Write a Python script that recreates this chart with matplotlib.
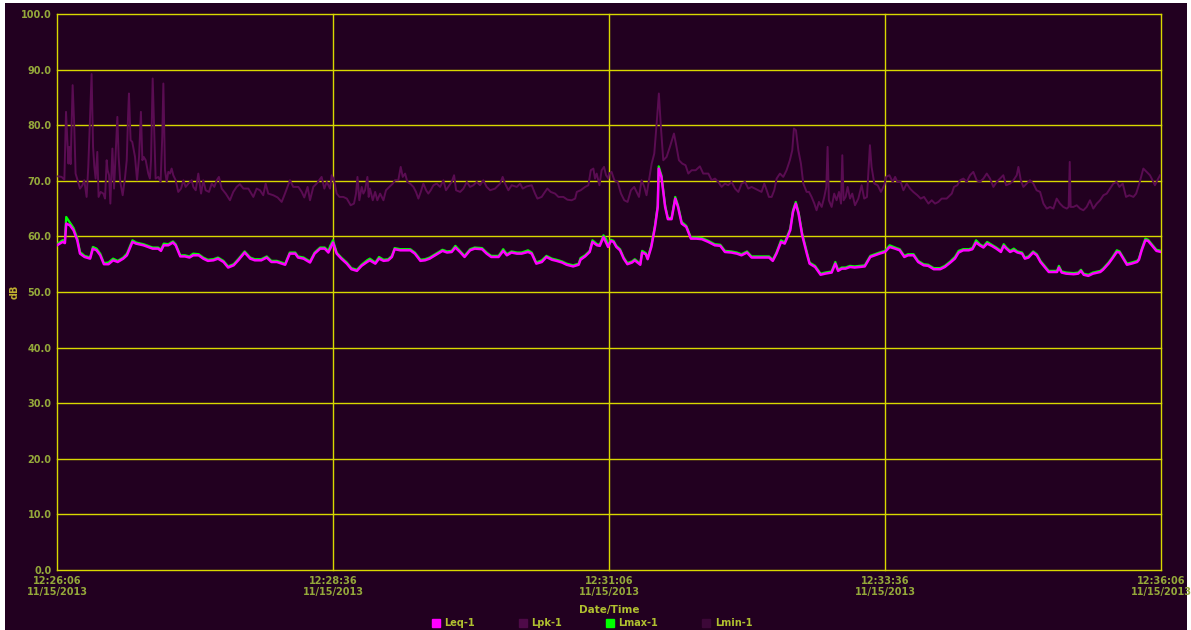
import matplotlib
matplotlib.use("Agg")
import matplotlib.pyplot as plt
import pandas as pd
from matplotlib.patches import Rectangle
from matplotlib.lines import Line2D

# seconds since 12:26:06 and levels in dB
leq_t = [0, 3, 4.3, 5, 7, 9, 11, 12.5, 15, 18, 19.5, 21.5, 23.5, 25.5, 28, 30.5, 33, 36, 38, 41,
         43, 47, 49.5, 52, 55, 56.5, 58, 60.5, 63, 64.5, 67, 69.5, 72, 74, 77, 79.5, 82, 85, 87.5, 90.5,
         93, 96, 98.5, 102, 105, 107.5, 111, 114, 116.5, 119.5, 124, 126.5, 129.5, 131, 134, 137.5, 140, 143, 145.5, 147.5,
         148.5, 150, 152, 154.5, 157.5, 160, 163, 165.5, 168.5, 170, 173, 175, 177.5, 180, 182, 183.5, 186.5, 192, 194.5, 197.5,
         200, 202.5, 206.5, 209.5, 212, 214.5, 216.5, 219, 221.5, 224.5, 227, 231, 233.5, 236, 240, 242.5, 244.5, 247, 250, 252.5,
         256, 258, 260.5, 263.5, 266, 269, 271.5, 274.5, 277, 280.5, 283.5, 284.5, 287, 289.5, 291, 293.5, 295, 297,
         298.5, 299.5, 301, 302.5, 304, 306, 308, 310, 312.5, 314, 317, 318, 320, 321, 323, 325, 326.5, 327, 328.5, 330.5,
         332, 334, 336, 337.5, 339.5, 342, 344.5, 347.5, 350.5, 354, 357.5, 360.5, 363, 366.5, 369.5, 372, 375, 377.5, 381, 385,
         387, 389, 391, 393.5, 395.5, 398.5, 400, 401.5, 403, 405, 407.5, 409, 412, 415, 417.5, 421, 423, 424.5, 426.5, 428.5,
         431, 433.5, 436.5, 439, 442, 444.5, 447,
         450, 452.5, 455.5, 458, 460.5, 462.5, 465.5, 468, 471, 473.5, 476.5, 480, 482.5, 485.5, 488, 490, 492.5, 495.5, 497.5, 499.5,
         501.5, 503.5, 505.5, 508, 510.5, 513, 514.5, 516, 518, 520, 522, 524.5, 526, 528, 530.5, 532.5, 534.5, 537, 539, 541.5,
         543.5, 544.5, 546, 548.5, 552.5, 555, 556.5, 558, 560.5, 563, 567, 568.5, 571.5, 573.5, 576, 577.5, 579.5, 581.5, 584, 587,
         588, 589.5, 591.5, 593, 595, 597.5, 600]

leq = [58.4, 59.0, 58.8, 62.3, 62.0, 61.1, 59.3, 56.9, 56.3, 56.0, 57.8, 57.5, 56.6, 55.0, 55.0, 55.7, 55.4, 56.0, 56.6, 59.0,
       58.7, 58.4, 58.1, 57.8, 57.8, 57.4, 58.4, 58.4, 58.9, 58.4, 56.4, 56.4, 56.2, 56.6, 56.6, 56.0, 55.6, 55.7, 56.0, 55.4,
       54.4, 54.8, 55.7, 57.1, 56.0, 55.7, 55.7, 56.2, 55.4, 55.4, 54.9, 56.9, 56.9, 56.2, 56.0, 55.3, 56.9, 57.8, 57.8, 57.1,
       57.8, 58.9, 56.9, 56.0, 55.1, 54.1, 53.8, 54.7, 55.4, 55.7, 55.1, 56.0, 55.6, 55.7, 56.3, 57.7, 57.5, 57.5, 56.9, 55.6,
       55.7, 56.0, 56.8, 57.4, 57.1, 57.2, 58.0, 57.2, 56.3, 57.5, 57.8, 57.7, 56.9, 56.3, 56.3, 57.4, 56.6, 57.1, 56.9, 56.9,
       57.2, 56.9, 55.1, 55.4, 56.3, 55.8, 55.6, 55.3, 54.9, 54.6, 54.9, 55.8, 56.4, 57.2, 59.0, 58.4, 58.3, 59.9,
       58.8, 58.1, 59.2, 59.0, 58.1, 57.5, 56.0, 55.0, 55.3, 55.7, 54.9, 57.1, 56.8, 55.9, 58.1, 61.7, 65.3, 72.2, 70.7, 65.3,
       63.1, 63.1, 66.8, 65.3, 62.3, 61.7, 59.6, 59.6, 59.5, 59.0, 58.4, 58.3, 57.2, 57.1, 56.9, 56.6, 57.1, 56.2, 56.2, 56.2,
       56.2, 55.6, 56.9, 59.0, 58.7, 61.1, 64.4, 65.9, 64.1, 60.2, 56.9, 55.1, 54.5, 53.1, 53.3, 53.5, 55.1, 53.8, 54.2, 54.2,
       54.5, 54.4, 54.5, 54.6, 56.3, 56.6, 56.9,
       57.2, 58.1, 57.8, 57.5, 56.3, 56.6, 56.6, 55.4, 54.8, 54.7, 54.1, 54.1, 54.5, 55.3, 56.0, 57.1, 57.5, 57.5, 57.7, 58.9,
       58.4, 58.0, 58.7, 58.3, 57.8, 57.2, 58.3, 57.8, 57.2, 57.5, 57.1, 56.9, 56.0, 56.2, 57.1, 56.6, 55.4, 54.4, 53.6, 53.6,
       53.6, 54.4, 53.5, 53.3, 53.2, 53.3, 53.8, 53.1, 52.9, 53.3, 53.6, 54.0, 55.1, 56.0, 57.2, 57.1, 56.0, 54.9, 55.1, 55.4,
       55.8, 57.5, 59.3, 59.2, 58.4, 57.4, 57.2]

lmax = [58.6, 59.3, 59.3, 63.5, 62.5, 61.5, 59.7, 57.2, 56.5, 56.2, 58.1, 57.8, 56.9, 55.2, 55.3, 56.0, 55.6, 56.2, 56.9, 59.3,
        58.9, 58.6, 58.3, 58.0, 58.0, 57.6, 58.7, 58.6, 59.1, 58.6, 56.6, 56.6, 56.4, 56.9, 56.8, 56.2, 55.8, 55.9, 56.2, 55.6,
        54.6, 55.0, 55.9, 57.3, 56.2, 55.9, 55.9, 56.4, 55.6, 55.6, 55.1, 57.1, 57.1, 56.4, 56.2, 55.5, 57.1, 58.0, 58.0, 57.4,
        58.3, 59.3, 57.1, 56.2, 55.3, 54.3, 54.0, 54.9, 55.7, 56.0, 55.3, 56.3, 55.8, 55.9, 56.5, 57.9, 57.7, 57.7, 57.1, 55.8,
        55.9, 56.2, 57.0, 57.6, 57.3, 57.4, 58.3, 57.4, 56.5, 57.7, 58.0, 57.9, 57.1, 56.5, 56.5, 57.7, 56.8, 57.3, 57.1, 57.1,
        57.5, 57.1, 55.3, 55.7, 56.5, 56.0, 55.8, 55.5, 55.1, 54.8, 55.1, 56.1, 56.6, 57.4, 59.3, 58.6, 58.5, 60.2,
        59.5, 58.3, 59.4, 59.2, 58.3, 57.7, 56.2, 55.2, 55.5, 55.9, 55.1, 57.4, 57.0, 56.1, 58.4, 62.0, 65.6, 72.6, 71.0, 65.6,
        63.3, 63.3, 67.1, 65.6, 62.6, 61.9, 59.8, 59.8, 59.7, 59.2, 58.6, 58.5, 57.4, 57.3, 57.1, 56.8, 57.3, 56.4, 56.4, 56.4,
        56.4, 55.8, 57.1, 59.3, 58.9, 61.4, 64.7, 66.2, 64.4, 60.5, 57.2, 55.3, 54.7, 53.3, 53.5, 53.7, 55.4, 54.0, 54.4, 54.4,
        54.7, 54.6, 54.7, 54.8, 56.5, 56.8, 57.1,
        57.4, 58.4, 58.0, 57.7, 56.5, 56.8, 56.8, 55.6, 55.0, 54.9, 54.3, 54.3, 54.7, 55.5, 56.3, 57.4, 57.7, 57.7, 57.9, 59.3,
        58.6, 58.2, 59.0, 58.5, 58.0, 57.4, 58.6, 58.0, 57.4, 57.8, 57.3, 57.1, 56.2, 56.4, 57.3, 56.8, 55.6, 54.6, 53.8, 53.8,
        53.8, 54.7, 53.7, 53.5, 53.4, 53.5, 54.0, 53.3, 53.1, 53.5, 53.8, 54.2, 55.3, 56.2, 57.5, 57.3, 56.2, 55.1, 55.3, 55.6,
        56.0, 57.7, 59.6, 59.4, 58.6, 57.6, 57.4]

lpk_t = [0.7, 2.5, 4, 4.9, 5.6, 6.2, 6.7, 7.4, 8.5, 9.4, 10.1, 11.2, 12.5, 13.8, 14.8, 16.1, 17, 17.8, 18.8, 19.6,
         20.3, 21, 21.9, 22.6, 23.7, 25.2, 26.1, 27, 27.5, 28.3, 29, 30.1, 31, 31.9, 32.8, 33.5, 34.4, 35.7, 37, 37.9,
         38.6, 39.1, 40, 40.9, 42.4, 43.5, 44.6, 45.6, 46.4, 47.1, 48.2, 49.6, 50.5, 51.1, 52, 52.9, 53.6, 55.1, 56.3, 57.2,
         57.8, 58.7, 59.6, 60.5, 61.4, 62.3, 63.2, 64.5, 65.9, 67.4, 68.7, 69.9, 71.4, 73.2, 74.1, 75.4, 76.8, 78.3, 79.5, 80.8,
         82.6, 84.1, 85.5, 86.8, 88, 89.5, 91.7, 94, 95.8, 97.6, 99.4, 101.3, 104, 106.7, 108.5, 110.3, 112.1, 113.4, 114.8, 117.6,
         119.9, 122.1, 123.9, 126.6, 128.4, 131.2, 133, 134.4, 136.2, 137.5, 139.3, 141.1, 143.8, 145.3, 146.6, 148.4,
         149.3, 150.6, 152, 153.5, 155.6, 157.5, 159.6, 161.4, 162.5, 163.3, 164.3, 165.6, 166.5, 167.4, 168.7, 169.4, 170.1, 171.6,
         172.9, 174.1, 175.6, 177.4, 178.8, 180.6, 182.5, 183.7, 185.5, 186.8, 187.9, 189.2, 190.4, 191.9, 193.7, 195.1, 196.4, 197.7,
         199.1, 200.6, 201.8, 203.1, 204.6, 206.4, 208.2, 210, 211.4, 213.3, 214.5, 215.8, 216.9, 219.1, 220.9, 222.7, 224.5, 226.3,
         228.1, 229.9, 231.7, 233.5, 235.4, 238.1, 240.8, 242.2, 243.5, 245.3, 247.1, 249.9, 251.7, 253.1, 255.3, 258, 259.8, 261.1,
         263.4, 265.2, 266.5, 268.3, 270.7, 272.5, 275.2, 277.4, 279.7, 281.6, 282.5, 284.6, 287, 288.8, 290.1, 291.5, 292.4, 293.3,
         294.8, 296, 297.3, 298.4, 299.7,
         300, 301.4, 302.9, 304.7, 306.5, 308.3, 310.1, 311.9, 313.7, 315, 316.3, 317.7, 319.2, 320.4, 321.7, 323.2, 324.6, 325.9,
         327.1, 328.2, 329.5, 331.3, 333.1, 335.3, 336.7, 338, 339.8, 341.6, 343.1, 344.9, 347.1, 349.4, 351.2, 354, 355.8, 357.6,
         359.4, 361.2, 363, 364.8, 366.6, 368.5, 370.3, 372.1, 373.9, 375.7, 377.5, 379.3, 381.1, 382.9, 384.4, 385.7, 386.9, 388.4,
         389.8, 391.1, 392.9, 394.7, 396.5, 398.3, 399.6, 400.5, 401.6, 402.9, 404.3, 405.6, 407.4, 408.7, 410.1, 411.6, 412.8, 414.1,
         415.6, 417, 418.1, 418.8, 419.5, 421, 422.4, 423.7, 425, 426.1, 426.8, 427.5, 428.6, 429.7, 431, 432.2, 433.7, 435.5,
         437.3, 438.7, 440.2, 441.8, 442.7, 444.2, 446, 447.8, 449.6,
         450.6, 452.4, 454.2, 455.5, 456.7, 458.5, 460, 461.8, 463.6, 465.4, 467.6, 469.4, 471.2, 473.6, 475.4, 477.2, 479, 480.8,
         483.5, 486.3, 487.5, 489.3, 490.8, 492.6, 494.4, 496.2, 498, 499.8, 501.6, 503.5, 505.3, 507.1, 508.9, 510.7, 512.5, 514.3,
         515.8, 518, 519.8, 521.6, 522.5, 523.8, 525.2, 527, 528.8, 530.6, 532.4, 534.3, 536.1, 537.9, 539.7, 541.5, 543.3, 545.1,
         546.9, 548.8, 549.8, 550.4, 550.9, 552.4, 554.2, 556, 557.8, 559.6, 561.4, 563.2, 565.1, 566.9, 568.7, 570.5, 572.3, 574.1,
         575.9, 577.4, 579.2, 581, 582.8, 585, 586.5, 588.2, 590.4, 592.2, 594, 595.4, 596.7, 598, 599.5]

lpk = [70.8, 70.7, 70.2, 82.4, 77.3, 73.1, 76.1, 73.0, 87.2, 79.7, 71.3, 70.1, 68.6, 69.2, 70.1, 67.1, 72.5, 79.7, 89.2, 76.1,
       72.5, 70.4, 75.2, 67.1, 68.0, 67.7, 66.8, 73.7, 71.9, 71.0, 65.9, 75.8, 68.6, 75.2, 81.5, 74.3, 69.8, 67.4, 70.7, 73.7,
       81.5, 85.7, 77.3, 77.0, 74.3, 70.1, 74.3, 82.4, 73.7, 74.3, 73.7, 71.3, 70.4, 73.7, 88.4, 77.9, 70.4, 70.7, 69.8, 77.9,
       87.5, 71.9, 69.8, 71.6, 71.3, 72.2, 71.0, 70.1, 68.0, 68.6, 70.1, 68.9, 69.5, 70.1, 68.9, 68.3, 71.3, 67.7, 70.1, 68.3,
       68.0, 69.5, 68.9, 70.1, 70.7, 68.6, 67.7, 66.5, 68.0, 68.9, 69.4, 68.6, 68.6, 67.1, 68.6, 68.3, 67.4, 69.5, 67.7, 67.4,
       67.0, 66.2, 67.7, 70.1, 68.9, 68.9, 68.0, 67.0, 68.9, 66.5, 68.9, 69.5, 70.7, 68.6, 69.8, 68.6,
       71.0, 70.1, 67.7, 67.1, 67.1, 66.8, 65.6, 65.9, 67.7, 70.7, 66.5, 68.9, 67.7, 68.3, 70.7, 67.1, 68.6, 66.5,
       68.0, 66.5, 67.7, 66.5, 68.3, 68.9, 69.5, 70.1, 70.1, 72.5, 70.7, 71.3, 69.8, 69.5, 68.9, 68.0, 66.8, 68.0,
       69.5, 68.3, 67.7, 68.3, 69.2, 69.5, 68.9, 70.1, 68.3, 69.2, 69.8, 71.0, 68.3, 68.0, 68.6, 69.8, 68.9, 69.2,
       69.8, 69.2, 70.1, 68.9, 68.3, 68.6, 69.5, 70.7, 69.5, 68.3, 69.2, 68.9, 69.5, 68.6, 69.0, 69.2, 67.7, 66.8,
       67.1, 68.0, 68.6, 68.0, 67.7, 67.1, 67.1, 66.6, 66.5, 66.8, 68.0, 68.3, 68.9, 69.2, 71.9, 72.2, 70.4, 71.3,
       69.2, 71.9, 72.5, 71.0, 70.4,
       71.3, 71.6, 70.1, 69.8, 67.7, 66.5, 66.2, 68.3, 68.9, 68.0, 67.1, 70.1, 68.9, 67.4, 70.1, 73.1, 74.9, 80.3,
       85.7, 79.7, 73.7, 74.3, 76.1, 78.5, 76.1, 73.7, 73.1, 72.8, 71.3, 71.9, 71.9, 72.6, 71.3, 71.3, 70.1, 70.4,
       69.8, 68.9, 69.5, 69.2, 69.8, 68.6, 68.0, 69.5, 69.8, 68.6, 68.9, 68.6, 68.3, 68.0, 69.5, 68.3, 67.1, 67.1,
       68.3, 70.4, 71.3, 70.7, 71.9, 73.7, 75.5, 79.4, 79.1, 75.5, 73.1, 69.5, 68.0, 68.0, 67.1, 65.9, 64.7, 66.2,
       65.3, 67.1, 68.9, 76.1, 66.5, 65.3, 67.7, 66.5, 68.0, 65.9, 74.6, 66.5, 67.1, 68.9, 66.8, 67.7, 65.6, 66.8,
       69.2, 66.8, 67.1, 76.4, 72.5, 69.5, 69.2, 68.0, 69.2,
       70.7, 71.0, 69.8, 70.7, 69.8, 69.8, 68.3, 69.5, 68.6, 68.0, 67.4, 66.8, 67.1, 65.9, 66.5, 65.9, 66.2, 66.8,
       66.8, 67.7, 68.9, 69.2, 70.1, 70.4, 69.8, 71.0, 71.6, 70.1, 69.8, 70.4, 71.3, 70.4, 68.9, 69.8, 70.4, 71.0,
       69.2, 69.5, 70.1, 71.0, 72.5, 70.1, 68.9, 69.5, 70.1, 69.5, 68.3, 68.0, 65.9, 65.0, 65.3, 65.0, 66.8, 65.9,
       65.3, 65.0, 65.3, 73.4, 65.3, 65.3, 65.6, 65.0, 64.7, 65.3, 66.5, 65.0, 65.9, 66.5, 67.4, 67.7, 68.6, 69.5,
       69.8, 68.9, 69.5, 67.1, 67.4, 67.1, 67.7, 69.5, 72.2, 71.6, 71.0, 70.1, 69.2, 70.1, 71.0]

series_names = ["Leq-1", "Lpk-1", "Lmax-1", "Lmin-1"]
series_colors = ["#ff00ff", "#4e0a48", "#00ff00", "#3c0838"]
tick_secs = [0, 150, 300, 450, 600]
start = pd.Timestamp("2013-11-15 12:26:06")

BG = "#220020"
GRID = "#d8d800"
TXT = "#94a83a"
W, H = 1191, 630

fig = plt.figure(figsize=(W / 100, H / 100), dpi=100)
fig.patch.set_facecolor("white")
fig.patches.append(Rectangle((5 / W, 0), 1182 / W, 627 / H, transform=fig.transFigure,
                             facecolor=BG, edgecolor="none", zorder=-10))

ax = fig.add_axes([57 / W, 60 / H, 1104 / W, 556 / H])
ax.set_facecolor(BG)

ax.plot(leq_t, lmax, color=series_colors[2], lw=1.6, zorder=3)
ax.plot(leq_t, leq, color=series_colors[0], lw=1.8, zorder=4)
ax.plot(lpk_t, lpk, color="#5a0c52", lw=1.4, zorder=2)

ax.set_xlim(0, 600)
ax.set_ylim(0, 100)
ax.set_yticks(range(0, 101, 10))
ax.set_yticklabels([f"{v:.1f}" for v in range(0, 101, 10)])
ax.set_xticks(tick_secs)
ax.set_xticklabels([(start + pd.Timedelta(seconds=s)).strftime("%H:%M:%S\n%m/%d/%Y") for s in tick_secs])
ax.tick_params(length=0, pad=4, labelsize=7, colors=TXT)
ax.grid(True, color=GRID, lw=1.0, zorder=1)
ax.set_axisbelow(True)
for gl in ax.get_xgridlines() + ax.get_ygridlines():
    gl.set_clip_on(False)
for s in ax.spines.values():
    s.set_visible(False)
for lbl in ax.get_xticklabels() + ax.get_yticklabels():
    lbl.set_fontweight("bold")

fig.text(609 / W, 1 - 610 / H, "Date/Time", ha="center", va="center", fontsize=7.5,
         fontweight="bold", color="#b0c030")
fig.text(15 / W, 1 - 292 / H, "dB", ha="center", va="center", rotation=90, fontsize=7,
         fontweight="bold", color="#c0b030")

handles = [Line2D([], [], ls="none", marker="s", ms=6, color=c) for c in series_colors]
leg = fig.legend(handles, series_names, loc="center", bbox_to_anchor=(592 / W, 1 - 623 / H),
                 ncol=4, frameon=False, fontsize=7, handlelength=0.8, handletextpad=0.5,
                 columnspacing=4.5, borderpad=0, labelcolor="#b0c030")
for t in leg.get_texts():
    t.set_fontweight("bold")

fig.savefig("out.png", dpi=100, facecolor=fig.get_facecolor())
